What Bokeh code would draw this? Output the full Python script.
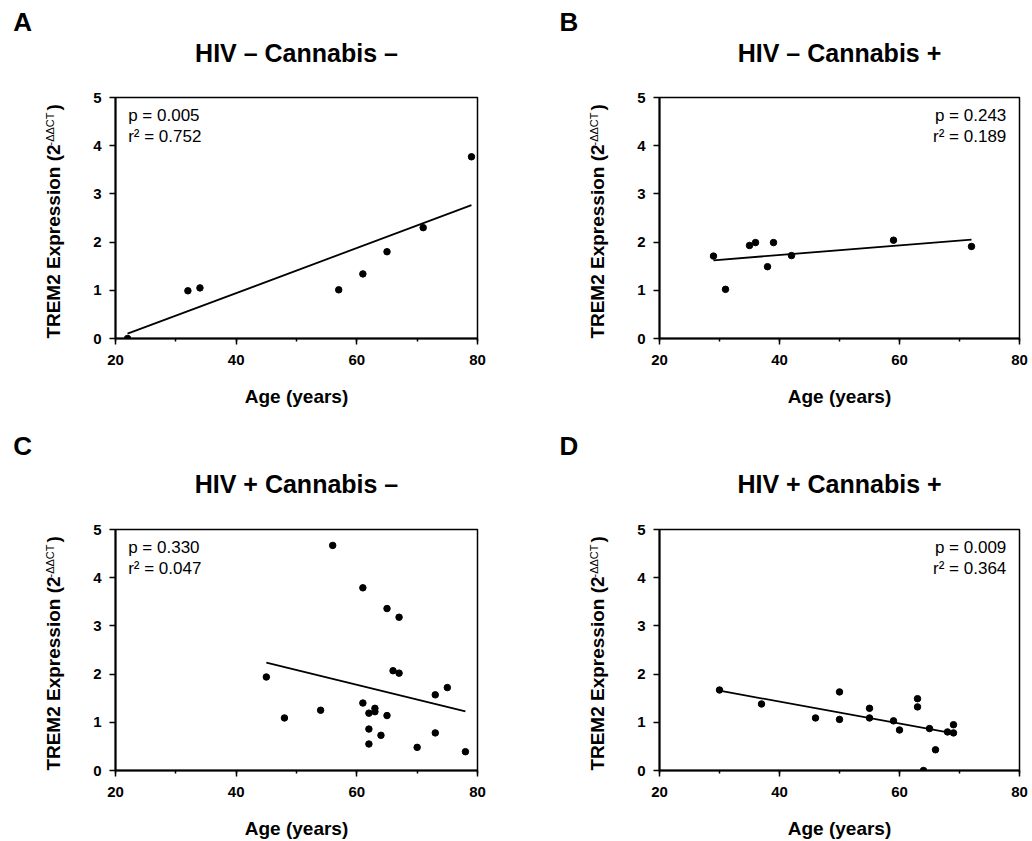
import numpy as np
from bokeh.plotting import figure
from bokeh.layouts import column, row
from bokeh.models import Range1d, SingleIntervalTicker, Label, Title
from bokeh.embed import file_html
from bokeh.resources import INLINE

FONT = "Liberation Sans"

# ---- data ----
A_age = [22, 32, 34, 57, 61, 65, 71, 79]
A_expr = [0.00, 0.99, 1.05, 1.01, 1.34, 1.80, 2.30, 3.77]

B_age = [29, 31, 35, 36, 38, 39, 42, 59, 72]
B_expr = [1.71, 1.02, 1.93, 1.99, 1.49, 1.99, 1.72, 2.04, 1.91]

C_age = [45, 48, 54, 56, 61, 61, 62, 62, 62, 63, 63, 64, 65, 65, 66, 67, 67, 70, 73, 73, 75, 78]
C_expr = [1.94, 1.09, 1.25, 4.67, 3.79, 1.40, 1.19, 0.86, 0.55, 1.29, 1.22, 0.73, 3.36, 1.14,
          2.07, 3.18, 2.02, 0.48, 1.57, 0.78, 1.72, 0.39]

D_age = [30, 37, 46, 50, 50, 55, 55, 59, 60, 63, 63, 64, 65, 66, 68, 69, 69]
D_expr = [1.67, 1.38, 1.09, 1.63, 1.06, 1.29, 1.09, 1.03, 0.84, 1.49, 1.32, 0.00, 0.87, 0.43,
          0.80, 0.95, 0.78]

titles = ["HIV \u2013 Cannabis \u2013", "HIV \u2013 Cannabis +",
          "HIV + Cannabis \u2013", "HIV + Cannabis +"]
letters = ["A", "B", "C", "D"]
p_texts = ["p = 0.005", "p = 0.243", "p = 0.330", "p = 0.009"]
r2_texts = ["r\u00b2 = 0.752", "r\u00b2 = 0.189", "r\u00b2 = 0.047", "r\u00b2 = 0.364"]
stat_side = ["left", "right", "left", "right"]

x_label = "Age (years)"
y_label_main = "TREM2 Expression (2"
y_label_sup = "-\u0394\u0394CT"
y_label_close = ")"

FRAME_H = 241
TOP_H, TOP_BT = 425, 97
BOT_H, BOT_BT = 416, 104


def make_label_fig(i, x0, w, height, frame_top, frame_left, letter_x, spacer):
    """Narrow figure left of a panel carrying the panel letter and the y-axis title.
    Its frame is aligned with the neighbouring panel; y values are page pixels."""
    f = figure(width=w, height=height, output_backend="svg", toolbar_location=None,
               x_range=Range1d(x0, x0 + w), y_range=Range1d(frame_top + FRAME_H, frame_top),
               x_axis_type=None, y_axis_type=None, title=letters[i], min_border=0)
    f.outline_line_color = None
    f.xgrid.visible = False
    f.ygrid.visible = False
    f.title.align = "left"
    f.title.offset = letter_x
    f.title.standoff = 0
    f.title.text_font = FONT
    f.title.text_font_size = "26px"
    f.title.text_font_style = "bold"
    f.title.text_color = "black"
    # empty spacer panel between the letter and the frame
    f.add_layout(Title(text=" ", text_font_size="1px", standoff=spacer), "above")

    base = frame_left - 62  # baseline of the rotated y title
    f.add_layout(Label(x=base, y=frame_top + 241.2, text=y_label_main, angle=90, angle_units="deg",
                       text_align="left", text_baseline="alphabetic", text_font=FONT,
                       text_font_size="19px", text_font_style="bold", text_color="black"))
    f.add_layout(Label(x=base - 4, y=frame_top + 48, text=y_label_sup, angle=90, angle_units="deg",
                       text_align="left", text_baseline="alphabetic", text_font=FONT,
                       text_font_size="11px", text_color="black"))
    f.add_layout(Label(x=base, y=frame_top + 13, text=y_label_close, angle=90, angle_units="deg",
                       text_align="left", text_baseline="alphabetic", text_font=FONT,
                       text_font_size="19px", text_font_style="bold", text_color="black"))
    return f


def make_panel(i, age, expr, width, height, bl, br, bt, title_standoff):
    p = figure(width=width, height=height, output_backend="svg", toolbar_location=None,
               x_range=Range1d(20, 80), y_range=Range1d(0, 5),
               min_border_left=bl, min_border_right=br, min_border_top=bt,
               min_border_bottom=height - bt - FRAME_H, title=titles[i])
    p.title.text_font = FONT
    p.title.text_font_size = "25px"
    p.title.text_font_style = "bold"
    p.title.text_color = "black"
    p.title.align = "center"
    p.title.standoff = title_standoff

    p.xgrid.visible = False
    p.ygrid.visible = False
    p.outline_line_color = "black"
    p.outline_line_width = 1.5
    p.outline_line_alpha = 1.0
    p.background_fill_color = "white"
    p.border_fill_color = "white"

    p.xaxis.ticker = SingleIntervalTicker(interval=20, num_minor_ticks=2)
    p.yaxis.ticker = SingleIntervalTicker(interval=1, num_minor_ticks=0)
    for ax in (p.xaxis, p.yaxis):
        ax.axis_line_width = 2
        ax.axis_line_color = "black"
        ax.major_tick_line_width = 1.5
        ax.major_tick_line_color = "black"
        ax.minor_tick_line_width = 1.5
        ax.minor_tick_line_color = "black"
        ax.major_tick_in = 0
        ax.major_tick_out = 6
        ax.minor_tick_in = 0
        ax.minor_tick_out = 3
        ax.major_label_text_font = FONT
        ax.major_label_text_font_size = "15px"
        ax.major_label_text_font_style = "bold"
        ax.major_label_text_color = "black"
    p.xaxis.major_label_standoff = 10
    p.yaxis.major_label_standoff = 8
    p.xaxis.axis_label = x_label
    p.xaxis.axis_label_text_font = FONT
    p.xaxis.axis_label_text_font_size = "19px"
    p.xaxis.axis_label_text_font_style = "bold"
    p.xaxis.axis_label_text_color = "black"
    p.xaxis.axis_label_standoff = 18

    # regression line computed from the data
    slope, intercept = np.polyfit(age, expr, 1)
    xs = np.array([min(age), max(age)], dtype=float)
    p.line(xs, slope * xs + intercept, line_color="black", line_width=1.8)
    p.scatter(age, expr, size=6.5, color="black")

    # statistics text
    if stat_side[i] == "left":
        sx, align = 22.1, "left"
    else:
        sx, align = 77.8, "right"
    p.add_layout(Label(x=sx, y=4.83, text=p_texts[i], text_align=align, text_baseline="top",
                       text_font=FONT, text_font_size="17px", text_color="black"))
    p.add_layout(Label(x=sx, y=4.38, text=r2_texts[i], text_align=align, text_baseline="top",
                       text_font=FONT, text_font_size="17px", text_color="black"))
    return p


top_frame = TOP_BT
bot_frame = TOP_H + BOT_BT

lA = make_label_fig(0, 0, 70, TOP_H, top_frame, 115, 12.7, 58)
pA = make_panel(0, A_age, A_expr, 468, TOP_H, 45, 61, TOP_BT, 61)
lB = make_label_fig(1, 538, 72, TOP_H, top_frame, 659.3, 21, 58)
pB = make_panel(1, B_age, B_expr, 422, TOP_H, 49, 13, TOP_BT, 61)

lC = make_label_fig(2, 0, 70, BOT_H, bot_frame, 115, 12.7, 66)
pC = make_panel(2, C_age, C_expr, 468, BOT_H, 45, 61, BOT_BT, 64)
lD = make_label_fig(3, 538, 72, BOT_H, bot_frame, 659.3, 21, 66)
pD = make_panel(3, D_age, D_expr, 422, BOT_H, 49, 13, BOT_BT, 64)

layout = column(row(lA, pA, lB, pB), row(lC, pC, lD, pD))

with open("out.html", "w") as f:
    f.write(file_html(layout, INLINE))
